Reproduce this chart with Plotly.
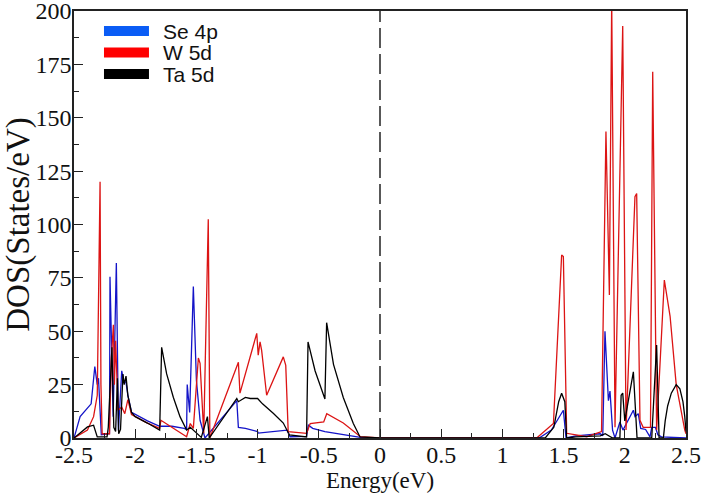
import plotly.graph_objects as go

# Projected DOS
se_energy = [-2.5, -2.45, -2.36, -2.33, -2.31, -2.3, -2.277, -2.21, -2.206, -2.18, -2.154, -2.137,
             -2.11, -2.095, -2.075, -2.06, -2.03, -2.0, -1.9, -1.8, -1.7, -1.6, -1.58, -1.575,
             -1.555, -1.525, -1.5, -1.47, -1.43, -1.17, -1.157, -1.1, -1.0, -0.995, -0.8, -0.76,
             -0.735, -0.6, -0.585, -0.55, -0.45, -0.16, 0.0, 1.3, 1.4, 1.498, 1.52, 1.6, 1.8,
             1.82, 1.838, 1.857, 1.866, 1.879, 1.9, 1.92, 1.96, 1.985, 2.07, 2.083, 2.11, 2.13,
             2.17, 2.206, 2.22, 2.25, 2.27, 2.3, 2.5]
se_dos = [0, 10, 16, 33.5, 25, 28, 1.5, 2, 75.5, 10, 82, 3.5,
          31.5, 27, 26, 20, 12, 11, 8, 5.5, 5.5, 4.5, 4, 25,
          12, 71, 27, 8.3, 0, 17.5, 5, 4.5, 3, 2.3, 3.7, 3.7,
          0.6, 0.8, 6, 4.5, 3, 0.3, 0, 0, 3.7, 13, 0, 1, 2,
          1, 50, 25, 17.5, 22, 3.7, 0, 7.5, 3.7, 13, 10, 11.4, 4.5,
          4, 0.5, 5, 5, 1.5, 0.5, 0]

w_energy = [-2.5, -2.39, -2.34, -2.31, -2.287, -2.28, -2.27, -2.21, -2.195, -2.178, -2.17, -2.16,
            -2.14, -2.11, -2.085, -2.06, -2.03, -2.0, -1.9, -1.8, -1.79, -1.58, -1.55, -1.525,
            -1.484, -1.47, -1.44, -1.403, -1.39, -1.157, -1.144, -1.007, -0.995, -0.98, -0.967,
            -0.926, -0.79, -0.77, -0.75, -0.6, -0.57, -0.46, -0.435, -0.3, -0.16, 0.0,
            1.28, 1.417, 1.484, 1.498, 1.525, 1.69, 1.81, 1.846, 1.874, 1.893, 1.92, 1.983,
            2.01, 2.083, 2.097, 2.124, 2.15, 2.21, 2.228, 2.26, 2.323, 2.37, 2.42, 2.49, 2.5]
w_dos = [0, 3.7, 10, 20, 120, 25, 2, 2, 37.5, 53, 25, 45.5,
         13, 14.5, 11.4, 18, 11, 10, 7, 4.5, 8.3, 0.6, 6.8, 4.5,
         37.5, 35, 2.2, 102.5, 0, 35.5, 21, 49, 38.8, 45, 41,
         20, 38, 34, 3, 2.2, 6.8, 7.5, 11.4, 7, 0.6, 0,
         0, 6.8, 85.7, 85, 2.2, 0.6, 3, 143.5, 67, 205, 5, 193,
         3.7, 113, 114.5, 8.3, 5, 5, 171.5, 3.7, 74, 57, 25, 3.7, 2]

ta_energy = [-2.5, -2.45, -2.39, -2.34, -2.31, -2.23, -2.22, -2.19, -2.175, -2.16, -2.145, -2.135,
             -2.12, -2.1, -2.09, -2.075, -2.06, -2.03, -2.0, -1.9, -1.8, -1.784, -1.743, -1.688,
             -1.634, -1.58, -1.55, -1.46, -1.41, -1.395, -1.17, -1.157, -1.1, -1.06, -1.0, -0.96,
             -0.87, -0.79, -0.74, -0.6, -0.588, -0.53, -0.45, -0.436, -0.38, -0.3, -0.218, -0.163,
             0.0, 1.35, 1.42, 1.46, 1.484, 1.51, 1.525, 1.6, 1.8, 1.84, 1.9, 1.96, 1.97, 1.983,
             2.0, 2.07, 2.1, 2.22, 2.26, 2.28, 2.315, 2.33, 2.35, 2.38, 2.42, 2.45, 2.475,
             2.49, 2.5]
ta_dos = [0, 2.5, 5.2, 6, 0.5, 0.5, 5, 42.5, 5, 3, 28, 2,
          4, 30, 25, 29, 20, 12, 10, 7, 3.7, 42.5, 30, 19,
          10, 3.7, 5, 0.3, 10, 0, 18.5, 17, 19, 18.5, 18.5, 16,
          11.5, 7, 1.4, 0.5, 45, 31.4, 18.3, 54, 34.5, 19, 6.8, 0.5,
          0, 0, 5, 17, 21, 17, 0, 0.5, 1, 2, 0, 0, 20, 21,
          8, 31, 0, 0, 43.5, 0, 0, 8, 15, 21, 25, 23, 17,
          10, 3]

series_names = ["Se 4p", "W 5d", "Ta 5d"]
line_colors = ["#1414c8", "#dc1414", "#000000"]
legend_colors = ["#0a5cf5", "#ff0000", "#000000"]

x_ticks = [-2.5, -2, -1.5, -1, -0.5, 0, 0.5, 1, 1.5, 2, 2.5]
x_tick_labels = ["-2.5", "-2", "-1.5", "-1", "-0.5", "0", "0.5", "1", "1.5", "2", "2.5"]
y_ticks = [0, 25, 50, 75, 100, 125, 150, 175, 200]
fermi_level = 0.0

serif = "Liberation Serif, Times New Roman, serif"
sans = "Liberation Sans, Arial, sans-serif"

fig = go.Figure()
for name, e, d, c in zip(series_names, [se_energy, w_energy, ta_energy],
                         [se_dos, w_dos, ta_dos], line_colors):
    fig.add_trace(go.Scatter(x=e, y=d, mode="lines", name=name,
                             line=dict(color=c, width=1.3), showlegend=False))

fig.add_vline(x=fermi_level, line=dict(color="#222", width=1.5, dash="20px,6px"))

# hand-made legend (plotly's own rows are too far apart for this font size)
for i, (name, c) in enumerate(zip(series_names, legend_colors)):
    yy = 0.953 - i * 0.0503
    fig.add_shape(type="line", xref="paper", yref="paper", x0=0.049, x1=0.1225,
                  y0=yy, y1=yy, line=dict(color=c, width=10))
    fig.add_annotation(xref="paper", yref="paper", x=0.142, y=yy, text=name,
                       showarrow=False, xanchor="left", yanchor="middle",
                       font=dict(family=sans, size=21, color="#111"))

axis_common = dict(
    showgrid=False, zeroline=False, showline=True, linecolor="#222", linewidth=1.5,
    mirror=True, ticks="inside", ticklen=9, tickwidth=1.2, tickcolor="#222",
    tickfont=dict(family=serif, size=24, color="#111"), ticklabeloverflow="allow",
)

fig.update_xaxes(
    range=[-2.5, 2.5], tickvals=x_ticks, ticktext=x_tick_labels, ticklabelstandoff=-6,
    minor=dict(dtick=0.25, ticks="inside", ticklen=5, tickcolor="#222"),
    title=dict(text="Energy(eV)", font=dict(family=serif, size=23, color="#111"), standoff=4),
    **axis_common
)
fig.update_yaxes(
    range=[0, 200], tickvals=y_ticks, ticklabelstandoff=-4,
    minor=dict(dtick=12.5, ticks="inside", ticklen=5, tickcolor="#222"),
    title=dict(text="DOS(States/eV)", font=dict(family=serif, size=33, color="#111"), standoff=0),
    **axis_common
)

fig.update_layout(
    width=703, height=494,
    margin=dict(l=74, r=17, t=11, b=56, autoexpand=False),
    plot_bgcolor="white", paper_bgcolor="white",
    showlegend=False,
)

fig.write_html("out.html", config={"displayModeBar": False},
               post_script="document.body.style.margin='0';")
